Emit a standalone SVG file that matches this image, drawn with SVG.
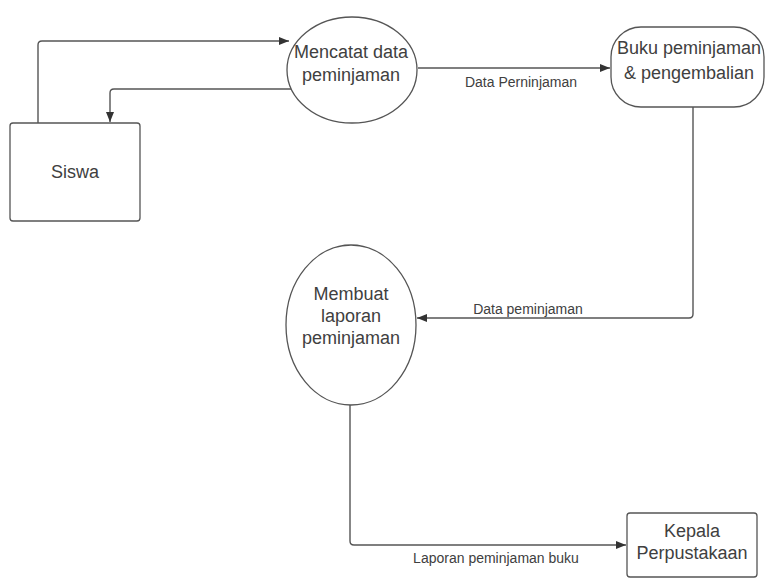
<svg xmlns="http://www.w3.org/2000/svg" width="765" height="578" viewBox="0 0 765 578">
<style>
.shape{fill:#fff;stroke:#555;stroke-width:1.3}
.node{font-family:"Liberation Sans",Arial,sans-serif;font-size:18px;fill:#404040;text-anchor:middle}
.lbl{font-family:"Liberation Sans",Arial,sans-serif;font-size:14px;fill:#404040;text-anchor:middle}
.edge{fill:none;stroke:#555;stroke-width:1.4}
</style>
<defs>
<marker id="arr" viewBox="0 0 10 10" refX="10" refY="5" markerWidth="10" markerHeight="10" markerUnits="userSpaceOnUse" orient="auto">
<path d="M0,1 L10,5 L0,9 z" fill="#333"/>
</marker>
</defs>
<rect width="765" height="578" fill="#fff"/>
<g id="connectors">
<path class="edge" d="M38,123 V45 Q38,41 42,41 H289" marker-end="url(#arr)"/>
<path class="edge" d="M291,89 H114 Q110,89 110,93 V122" marker-end="url(#arr)"/>
<path class="edge" d="M418,68 H610" marker-end="url(#arr)"/>
<path class="edge" d="M693,107 V314 Q693,318 689,318 H417" marker-end="url(#arr)"/>
<path class="edge" d="M350,405 V541 Q350,545 354,545 H626" marker-end="url(#arr)"/>
<text class="lbl" x="521" y="87">Data Perninjaman</text>
<text class="lbl" x="528" y="314">Data peminjaman</text>
<text class="lbl" x="496" y="563">Laporan peminjaman buku</text>
</g>
<g id="siswa">
<rect class="shape" x="10" y="123" width="130" height="98" rx="3"/>
<text class="node" x="75" y="178">Siswa</text>
</g>
<g id="mencatat">
<ellipse class="shape" cx="352" cy="70" rx="65" ry="53"/>
<text class="node" x="351" y="58">Mencatat data</text>
<text class="node" x="351" y="81">peminjaman</text>
</g>
<g id="buku">
<rect class="shape" x="611" y="27" width="153" height="80" rx="30"/>
<text class="node" x="689" y="54">Buku peminjaman</text>
<text class="node" x="689" y="79">&amp; pengembalian</text>
</g>
<g id="membuat">
<ellipse class="shape" cx="351" cy="325" rx="65" ry="80"/>
<text class="node" x="351" y="300">Membuat</text>
<text class="node" x="351" y="322">laporan</text>
<text class="node" x="351" y="344">peminjaman</text>
</g>
<g id="kepala">
<rect class="shape" x="627" y="513" width="130" height="64" rx="3"/>
<text class="node" x="692" y="537">Kepala</text>
<text class="node" x="692" y="559">Perpustakaan</text>
</g>
</svg>
